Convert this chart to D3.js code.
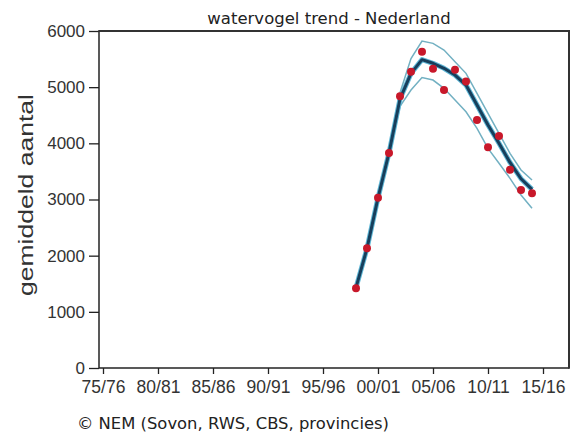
<!DOCTYPE html>
<html>
<head>
<meta charset="utf-8">
<script src="https://cdn.jsdelivr.net/npm/d3@7/dist/d3.min.js"></script>
<style>
  html, body { margin: 0; padding: 0; background: #fff; }
  svg { display: block; }
</style>
</head>
<body>
<svg id="chart" width="575" height="434"></svg>
<script>
// ---- data ----
const title = "watervogel trend - Nederland";
const yTitle = "gemiddeld aantal";
const footer = "\u00A9 NEM (Sovon, RWS, CBS, provincies)";

const tickSeasons = [1975, 1980, 1985, 1990, 1995, 2000, 2005, 2010, 2015];
const tickLabels = ["75/76", "80/81", "85/86", "90/91", "95/96", "00/01", "05/06", "10/11", "15/16"];
const yTicks = [0, 1000, 2000, 3000, 4000, 5000, 6000];

const seasons = [1998, 1999, 2000, 2001, 2002, 2003, 2004, 2005, 2006, 2007, 2008, 2009, 2010, 2011, 2012, 2013, 2014];
const counts  = [1420, 2130, 3030, 3830, 4840, 5275, 5630, 5330, 4950, 5310, 5100, 4415, 3930, 4130, 3530, 3170, 3110];
const trend   = [1430, 2130, 3030, 3830, 4790, 5245, 5490, 5425, 5336, 5216, 5038, 4682, 4326, 4000, 3660, 3370, 3180];
const upper   = [1460, 2180, 3080, 3900, 4900, 5510, 5820, 5780, 5661, 5453, 5246, 4890, 4534, 4178, 3822, 3525, 3347];
const lower   = [1400, 2090, 2980, 3770, 4660, 4950, 5170, 5127, 4980, 4771, 4563, 4267, 3911, 3645, 3377, 3080, 2843];

// ---- layout ----
const svg = d3.select("#chart");
const L = 99, R = 569, T = 31, B = 368;

const x = d3.scaleLinear().domain([1975, 2015]).range([103, 543]);
const y = d3.scaleLinear().domain([0, 6000]).range([B, T]);

// title
svg.append("text")
  .attr("x", 329).attr("y", 24)
  .attr("text-anchor", "middle")
  .attr("font-family", "DejaVu Sans, sans-serif")
  .attr("font-size", 16.5)
  .attr("fill", "#222")
  .text(title);

// y axis
const yAxis = svg.append("g")
  .attr("transform", `translate(${L},0)`)
  .call(d3.axisLeft(y).tickValues(yTicks).tickFormat(d3.format("d")).tickSize(10).tickPadding(4));
yAxis.select(".domain").remove();
yAxis.selectAll(".tick line").attr("stroke", "#222").attr("stroke-width", 1.3);
yAxis.selectAll(".tick text")
  .attr("font-family", "Liberation Sans, Arial, sans-serif")
  .attr("font-size", 17).attr("fill", "#333");

// x axis
const xAxis = svg.append("g")
  .attr("transform", `translate(0,${B})`)
  .call(d3.axisBottom(x).tickValues(tickSeasons)
    .tickFormat((d, i) => tickLabels[i]).tickSize(6).tickPadding(7));
xAxis.select(".domain").remove();
xAxis.selectAll(".tick line").attr("stroke", "#222").attr("stroke-width", 1.3);
xAxis.selectAll(".tick text")
  .attr("font-family", "Liberation Sans, Arial, sans-serif")
  .attr("font-size", 17.5).attr("fill", "#333");

// y title
svg.append("text")
  .attr("transform", `translate(33,${195}) rotate(-90)`)
  .attr("text-anchor", "middle")
  .attr("font-family", "Liberation Sans, Arial, sans-serif")
  .attr("font-size", 21)
  .attr("textLength", 202)
  .attr("lengthAdjust", "spacingAndGlyphs")
  .attr("fill", "#333")
  .text(yTitle);

// lines
const line = vals => d3.line()
  .x((d, i) => x(seasons[i]))
  .y(d => y(d))(vals);

svg.append("path").attr("d", line(upper))
  .attr("fill", "none").attr("stroke", "#72b0c2").attr("stroke-width", 1.5);
svg.append("path").attr("d", line(lower))
  .attr("fill", "none").attr("stroke", "#72b0c2").attr("stroke-width", 1.5);
svg.append("path").attr("d", line(trend))
  .attr("fill", "none").attr("stroke", "#5fb7d6").attr("stroke-width", 5)
  .attr("stroke-linejoin", "round");
svg.append("path").attr("d", line(trend))
  .attr("fill", "none").attr("stroke", "#173f5c").attr("stroke-width", 3)
  .attr("stroke-linejoin", "round");

// points
svg.append("g").selectAll("circle")
  .data(counts)
  .join("circle")
  .attr("cx", (d, i) => x(seasons[i]))
  .attr("cy", d => y(d))
  .attr("r", 4)
  .attr("fill", "#c8182a");

// frame
svg.append("line").attr("x1", L).attr("x2", L).attr("y1", T).attr("y2", B)
  .attr("stroke", "#222").attr("stroke-width", 1.5);
svg.append("line").attr("x1", L).attr("x2", R).attr("y1", B).attr("y2", B)
  .attr("stroke", "#222").attr("stroke-width", 1.5);
svg.append("line").attr("x1", L - 0.75).attr("x2", R + 1).attr("y1", T).attr("y2", T)
  .attr("stroke", "#333").attr("stroke-width", 2);
svg.append("line").attr("x1", R).attr("x2", R).attr("y1", T).attr("y2", B + 0.75)
  .attr("stroke", "#333").attr("stroke-width", 2);

// footer
svg.append("text")
  .attr("x", 77).attr("y", 429)
  .attr("font-family", "DejaVu Sans, sans-serif")
  .attr("font-size", 16.4)
  .attr("fill", "#222")
  .text(footer);
</script>
</body>
</html>
